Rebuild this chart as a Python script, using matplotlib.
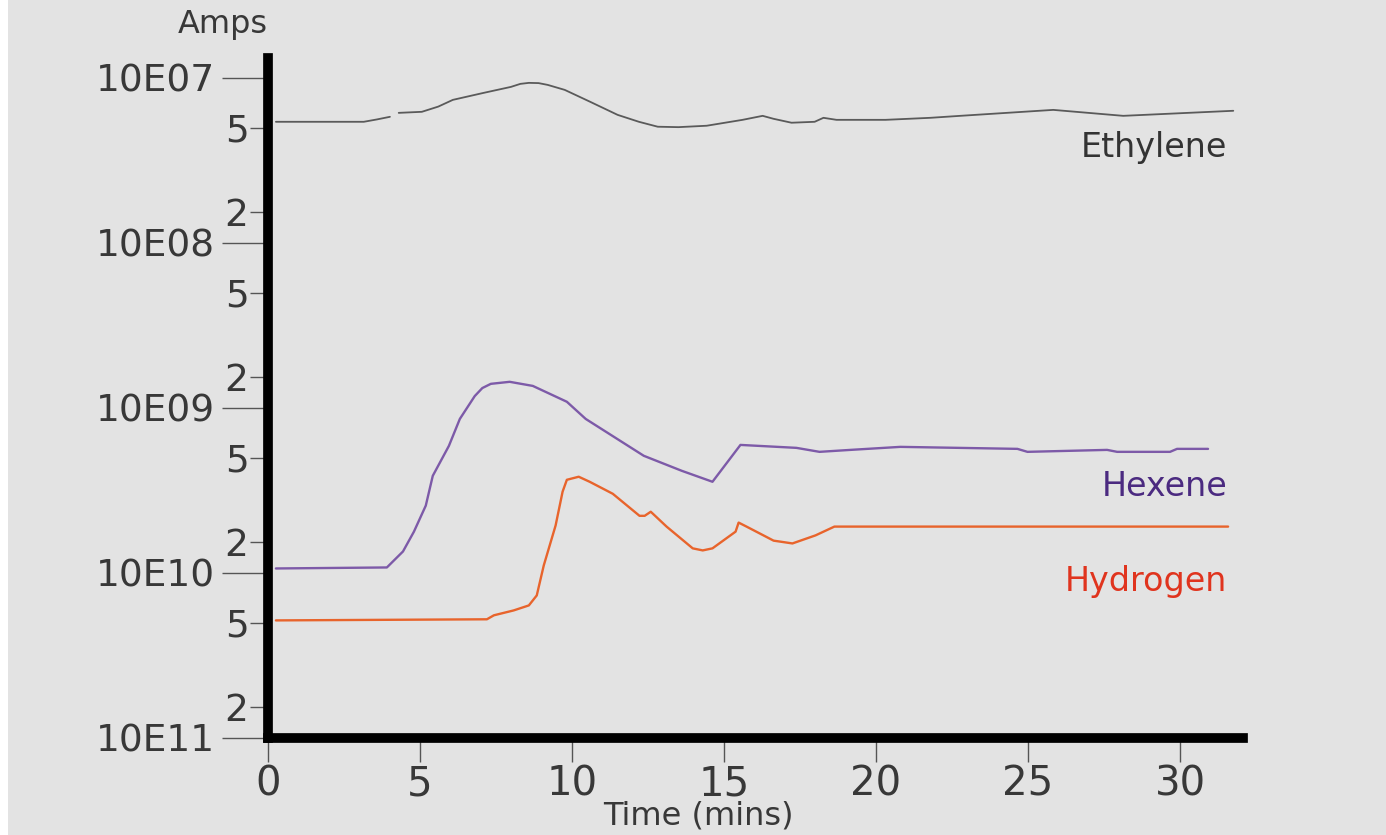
import numpy as np
import matplotlib.pyplot as plt
from matplotlib.patches import Rectangle

plt.rcParams['font.family'] = ['DejaVu Sans']

# 乙烯信号
ethylene_t = [0.26, 3.15, 3.58, 4.01, np.nan, 4.30, 5.06, 5.6, 6.08, 7.10, 7.99, 8.3, 8.58, 8.9,
              9.2, 9.76, 10.6, 11.50, 12.2, 12.82, 13.5, 14.43, 15.61, 16.27, 16.63, 17.22,
              17.98, 18.27, 18.70, 20.31, 21.79, 22.77, 25.83, 28.13, 31.75]
ethylene_a = [5.42e-8, 5.42e-8, 5.60e-8, 5.81e-8, np.nan, 6.14e-8, 6.23e-8, 6.7e-8, 7.36e-8,
              8.12e-8, 8.82e-8, 9.2e-8, 9.33e-8, 9.3e-8, 9.07e-8, 8.46e-8, 7.16e-8, 5.97e-8,
              5.42e-8, 5.06e-8, 5.03e-8, 5.13e-8, 5.57e-8, 5.89e-8, 5.65e-8, 5.35e-8, 5.42e-8,
              5.73e-8, 5.57e-8, 5.57e-8, 5.73e-8, 5.89e-8, 6.40e-8, 5.89e-8, 6.32e-8]

# 己烯信号
hexene_t = [0.26, 3.91, 4.44, 4.80, 5.19, 5.42, 5.95, 6.31, 6.80, 7.05, 7.33, 7.95, 8.71, 9.83,
            10.45, 12.36, 13.61, 14.62, 15.54, 17.38, 18.14, 19.16, 20.80, 24.65, 24.98,
            27.60, 27.93, 29.67, 29.90, 30.92]
hexene_a = [1.065e-10, 1.08e-10, 1.35e-10, 1.78e-10, 2.56e-10, 3.88e-10, 5.89e-10, 8.58e-10,
            1.18e-9, 1.32e-9, 1.40e-9, 1.44e-9, 1.36e-9, 1.09e-9, 8.58e-10, 5.13e-10,
            4.16e-10, 3.57e-10, 5.97e-10, 5.73e-10, 5.42e-10, 5.57e-10, 5.81e-10, 5.65e-10,
            5.42e-10, 5.57e-10, 5.42e-10, 5.42e-10, 5.65e-10, 5.65e-10]

# 氢气信号
hydrogen_t = [0.26, 7.20, 7.43, 8.08, 8.58, 8.84, 9.07, 9.46, 9.69, 9.83, 10.22, 10.58, 11.34,
              12.22, 12.39, 12.59, 13.11, 13.97, 14.3, 14.62, 15.38, 15.48, 15.74, 16.63,
              17.25, 18.01, 18.63, 19.49, 31.58]
hydrogen_a = [5.16e-11, 5.24e-11, 5.54e-11, 5.93e-11, 6.36e-11, 7.31e-11, 1.11e-10, 1.94e-10,
              3.11e-10, 3.67e-10, 3.83e-10, 3.57e-10, 3.02e-10, 2.22e-10, 2.22e-10, 2.35e-10,
              1.91e-10, 1.41e-10, 1.37e-10, 1.41e-10, 1.78e-10, 2.02e-10, 1.91e-10, 1.57e-10,
              1.51e-10, 1.69e-10, 1.91e-10, 1.91e-10, 1.91e-10]

# 坐标刻度
x_ticks = [0, 5, 10, 15, 20, 25, 30]
decades = [1e-11, 1e-10, 1e-9, 1e-8, 1e-7]
decade_labels = ['10E11', '10E10', '10E09', '10E08', '10E07']
minor_ticks = [1.55e-11, 5e-11, 1.55e-10, 5e-10, 1.55e-9, 5e-9, 1.55e-8, 5e-8]
minor_labels = ['2', '5', '2', '5', '2', '5', '2', '5']

bg = '#e3e3e3'
tick_grey = '#555555'
text_grey = '#383838'

fig = plt.figure(figsize=(13.86, 8.35), dpi=100, facecolor=bg)
fig.patches.append(Rectangle((0, 0), 8 / 1386, 1, transform=fig.transFigure,
                             facecolor='white', edgecolor='none', zorder=-1))

ax = fig.add_axes([268 / 1386, 1 - 738 / 835, (1243 - 268) / 1386, (738 - 58) / 835])
ax.set_facecolor('none')
ax.set_yscale('log')
ax.set_xlim(0, 32.07)
ax.set_ylim(1e-11, 1.32e-7)

line_kw = dict(solid_joinstyle='round', solid_capstyle='round')
ax.plot(ethylene_t, ethylene_a, color='#5a5a5a', lw=1.3, **line_kw)
ax.plot(hexene_t, hexene_a, color='#7d5aa8', lw=1.7, **line_kw)
ax.plot(hydrogen_t, hydrogen_a, color='#e8642c', lw=1.7, **line_kw)

ax.text(31.55, 3.78e-8, 'Ethylene', color='#333333', fontsize=24, ha='right', va='center')
ax.text(31.55, 3.33e-10, 'Hexene', color='#4b2a80', fontsize=24, ha='right', va='center')
ax.text(31.55, 8.89e-11, 'Hydrogen', color='#e0341e', fontsize=24, ha='right', va='center')

# 粗黑坐标轴
for side in ['top', 'right']:
    ax.spines[side].set_visible(False)
for side in ['left', 'bottom']:
    ax.spines[side].set_linewidth(7)
    ax.spines[side].set_color('black')
    ax.spines[side].set_capstyle('projecting')

ax.set_xticks(x_ticks)
ax.set_xticklabels([str(t) for t in x_ticks], fontsize=29, color=text_grey)
ax.tick_params(axis='x', length=17, width=1, color=tick_grey, pad=2)

ax.set_yticks(decades)
ax.set_yticklabels(decade_labels, fontsize=27, color=text_grey)
ax.set_yticks(minor_ticks, minor=True)
ax.set_yticklabels(minor_labels, minor=True, fontsize=27, color=text_grey)
ax.tick_params(axis='y', which='major', length=33, width=1, color=tick_grey, pad=5)
ax.tick_params(axis='y', which='minor', length=13, width=1, color=tick_grey, pad=1)

fig.text(268 / 1386, 1 - 33 / 835, 'Amps', fontsize=23, color=text_grey,
         ha='right', va='baseline')
fig.text(698 / 1386, 1 - 816 / 835, 'Time (mins)', fontsize=23, color=text_grey,
         ha='center', va='center')

fig.savefig('out.png', dpi=100, facecolor=bg)
